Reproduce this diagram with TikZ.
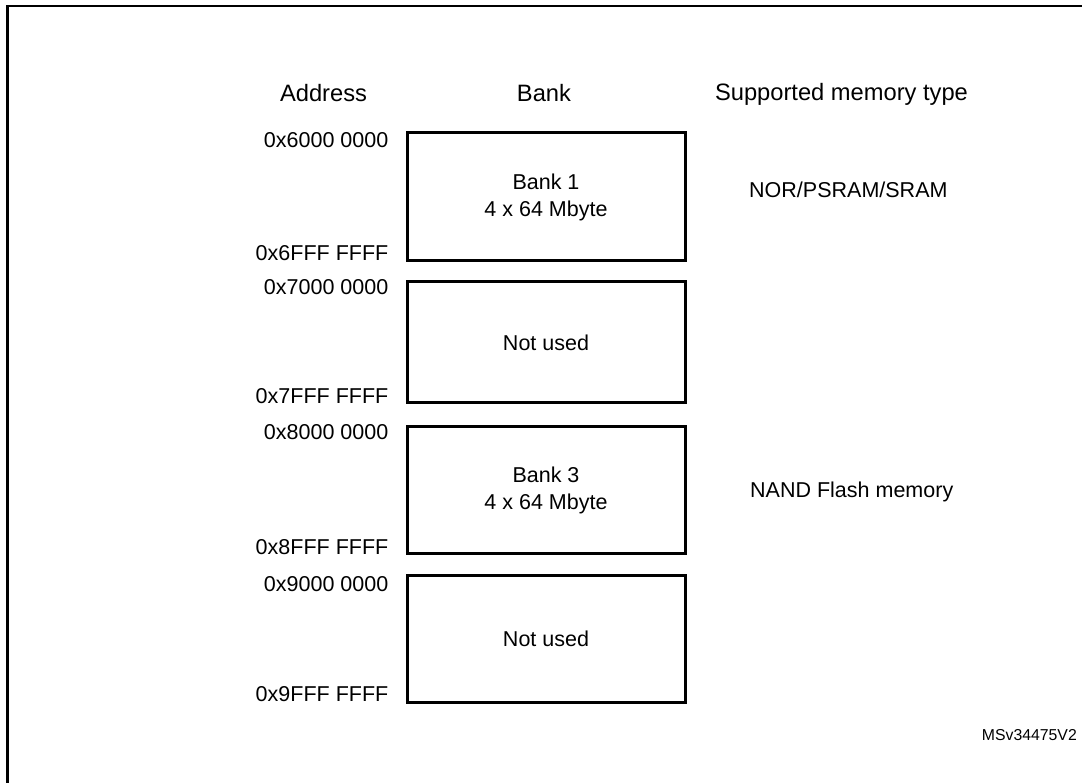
\documentclass[tikz,border=0pt]{standalone}
\usepackage{fontspec}
\setmainfont{Liberation Sans}
\begin{document}
\begin{tikzpicture}[x=1pt,y=-1pt,
  bankbox/.style={draw, line width=3pt, minimum width=278pt, inner sep=0pt, align=center,
    font=\fontsize{21.5}{27}\selectfont},
  lbl/.style={inner sep=0pt, font=\fontsize{21.5}{27}\selectfont},
  head/.style={inner sep=0pt, anchor=base, font=\fontsize{23.7}{28}\selectfont},
  addrtop/.style={lbl, anchor=base east},
  small/.style={inner sep=0pt, font=\fontsize{15.8}{19}\selectfont}]
\useasboundingbox (0,0) rectangle (1082,783);
% frame
\draw[line width=2.2pt] (7.5,800) -- (7.5,6) -- (1100,6);
% headers
\node[head] (hA) at (323.5,102) {Address};
\node[head] (hB) at (544,102) {Bank};
\node[head] (hS) at (841.5,101) {Supported memory type};
% banks
\node[bankbox, minimum height=128pt] (b1) at (546,197) {Bank 1\\4 x 64 Mbyte};
\node[bankbox, minimum height=121pt] (b2) at (546,342.5) {Not used};
\node[bankbox, minimum height=126pt] (b3) at (546,490) {Bank 3\\4 x 64 Mbyte};
\node[bankbox, minimum height=127pt] (b4) at (546,638.5) {Not used};
% addresses
\node[addrtop] (a1s) at ([xshift=-17pt,yshift=-16pt]b1.north west) {0x6000 0000};
\node[addrtop] (a1e) at ([xshift=-17pt,yshift=2pt]b1.south west) {0x6FFF FFFF};
\node[addrtop] (a2s) at ([xshift=-17pt,yshift=-14pt]b2.north west) {0x7000 0000};
\node[addrtop] (a2e) at ([xshift=-17pt,yshift=1pt]b2.south west) {0x7FFF FFFF};
\node[addrtop] (a3s) at ([xshift=-17pt,yshift=-14pt]b3.north west) {0x8000 0000};
\node[addrtop] (a3e) at ([xshift=-17pt,yshift=0pt]b3.south west) {0x8FFF FFFF};
\node[addrtop] (a4s) at ([xshift=-17pt,yshift=-18pt]b4.north west) {0x9000 0000};
\node[addrtop] (a4e) at ([xshift=-17pt,yshift=2pt]b4.south west) {0x9FFF FFFF};
% memory types
\node[lbl, anchor=base west] (m1) at (749,198) {NOR/PSRAM/SRAM};
\node[lbl, anchor=base west] (m3) at (750,497) {NAND Flash memory};
% figure id
\node[small, anchor=base east] (id) at (1077,740) {MSv34475V2};
\end{tikzpicture}
\end{document}
